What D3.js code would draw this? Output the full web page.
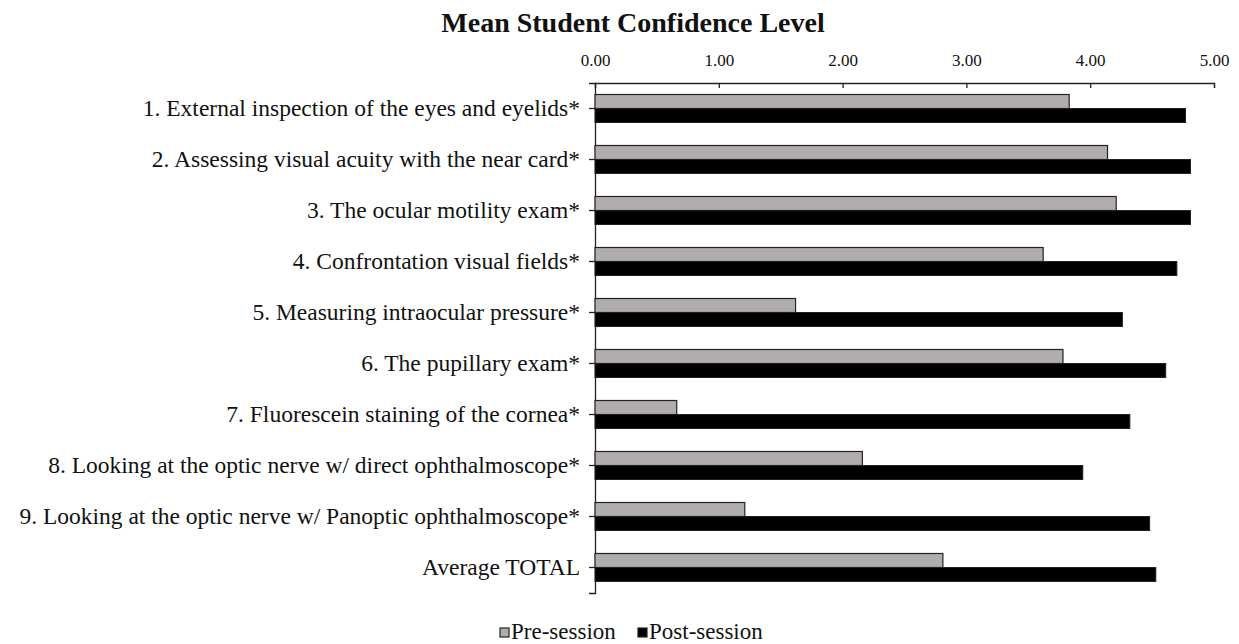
<!DOCTYPE html>
<html>
<head>
<meta charset="utf-8">
<script src="https://cdn.jsdelivr.net/npm/d3@7"></script>
<style>
  html, body { margin: 0; padding: 0; background: #fff; }
  svg { display: block; }
  text { font-family: "Liberation Serif", "Times New Roman", serif; fill: #111; }
</style>
</head>
<body>
<svg id="chart" width="1239" height="644"></svg>
<script>
const categories = [
  "1. External inspection of the eyes and eyelids*",
  "2. Assessing visual acuity with the near card*",
  "3. The ocular motility exam*",
  "4. Confrontation visual fields*",
  "5. Measuring intraocular pressure*",
  "6. The pupillary exam*",
  "7. Fluorescein staining of the cornea*",
  "8. Looking at the optic nerve w/ direct ophthalmoscope*",
  "9. Looking at the optic nerve w/ Panoptic ophthalmoscope*",
  "Average TOTAL"
];
const preSession  = [3.83, 4.14, 4.21, 3.62, 1.62, 3.78, 0.66, 2.16, 1.21, 2.81];
const postSession = [4.77, 4.81, 4.81, 4.70, 4.26, 4.61, 4.32, 3.94, 4.48, 4.53];
const seriesNames = ["Pre-session", "Post-session"];
const tickValues = [0, 1, 2, 3, 4, 5];
const title = "Mean Student Confidence Level";

const svg = d3.select("#chart");
const m = {left: 595, right: 25, top: 83, bottom: 51};
const W = 1239, H = 644;
const innerH = H - m.top - m.bottom;

const x = d3.scaleLinear().domain([0, 5]).range([0, 1214 - 595]);
const y = d3.scaleBand().domain(categories).range([0, innerH]).paddingInner(0).paddingOuter(0);
const sub = d3.scaleBand().domain(seriesNames).range([y.bandwidth()/2 - 14, y.bandwidth()/2 + 14]);

const g = svg.append("g").attr("transform", `translate(${m.left},${m.top})`);

// title
svg.append("text")
  .attr("x", 633).attr("y", 32)
  .attr("text-anchor", "middle")
  .style("font-size", "28px").style("font-weight", "bold")
  .text(title);

// top axis
const xAxis = d3.axisTop(x).tickValues(tickValues).tickFormat(d3.format(".2f"))
  .tickSizeInner(-5).tickSizeOuter(-5).tickPadding(17);
const xg = g.append("g").call(xAxis);
xg.select(".domain").attr("stroke", "#222").attr("stroke-width", 1.3);
xg.selectAll(".tick line").attr("stroke", "#222").attr("stroke-width", 1.3);
xg.selectAll(".tick text").style("font-size", "17px").style("font-family", "Liberation Serif, serif").attr("fill", "#111");

// left axis
const yAxis = d3.axisLeft(y).tickSizeInner(6).tickSizeOuter(6).tickPadding(9);
const yg = g.append("g").call(yAxis);
yg.select(".domain").attr("stroke", "#222").attr("stroke-width", 1.3);
yg.selectAll(".tick line").attr("stroke", "#222").attr("stroke-width", 1.3);
yg.selectAll(".tick text").style("font-size", "23.5px").style("font-family", "Liberation Serif, serif").attr("fill", "#111");

// bars
const rows = categories.map((c, i) => ({c, pre: preSession[i], post: postSession[i]}));
const colors = {"Pre-session": "#b1adad", "Post-session": "#000"};

const grp = g.selectAll(".row").data(rows).join("g")
  .attr("transform", d => `translate(0,${y(d.c)})`);
grp.append("rect")
  .attr("x", 0).attr("y", sub("Pre-session"))
  .attr("width", d => x(d.pre)).attr("height", sub.bandwidth())
  .attr("fill", colors["Pre-session"]).attr("stroke", "#222").attr("stroke-width", 1.2);
grp.append("rect")
  .attr("x", 0).attr("y", sub("Post-session"))
  .attr("width", d => x(d.post)).attr("height", sub.bandwidth())
  .attr("fill", colors["Post-session"]).attr("stroke", "#222").attr("stroke-width", 1);

// legend
const legend = svg.append("g").attr("transform", "translate(500,628)");
const items = [{name: "Pre-session", x: 0}, {name: "Post-session", x: 138}];
items.forEach(it => {
  const lg = legend.append("g").attr("transform", `translate(${it.x},0)`);
  lg.append("rect").attr("x", 0).attr("y", 0).attr("width", 9).attr("height", 9)
    .attr("fill", colors[it.name]).attr("stroke", "#222").attr("stroke-width", 1.2);
  lg.append("text").attr("x", 11).attr("y", 11).style("font-size", "23px").text(it.name);
});
</script>
</body>
</html>
